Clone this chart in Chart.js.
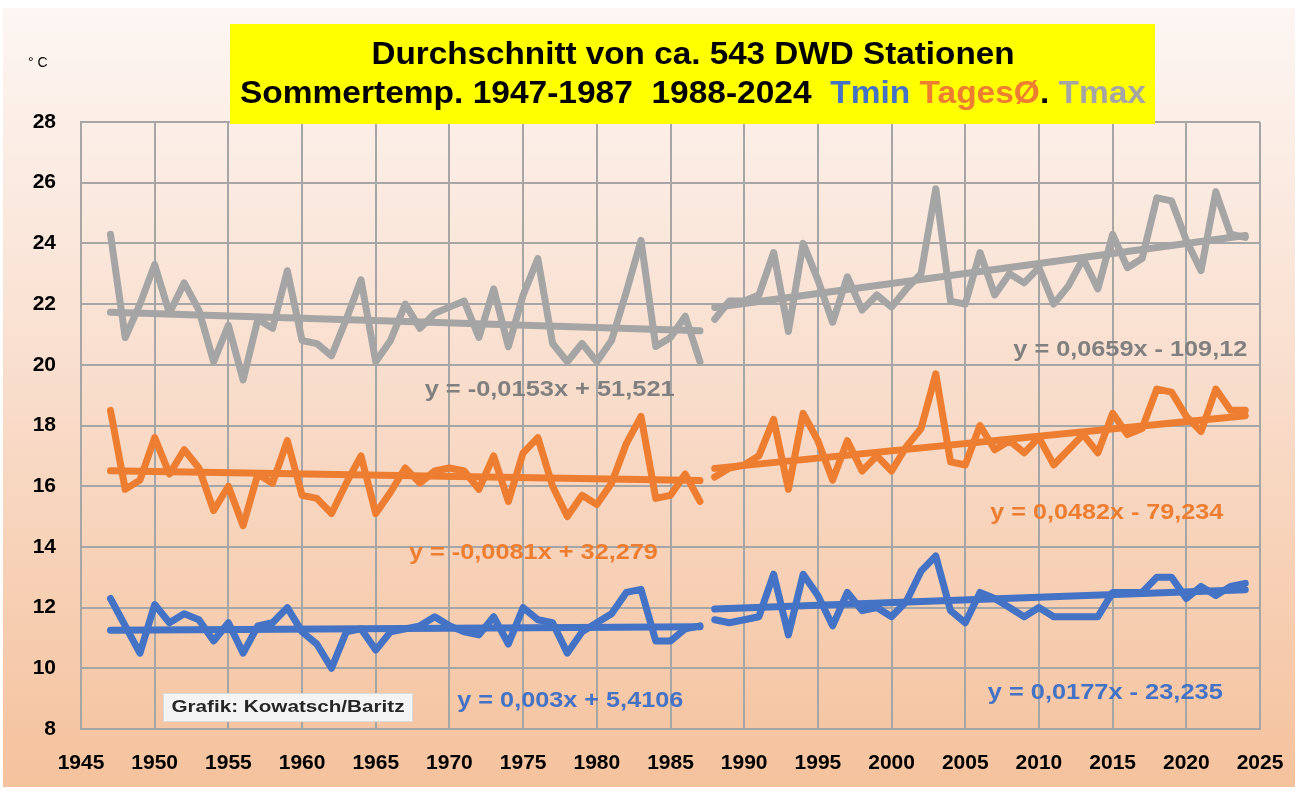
<!DOCTYPE html>
<html>
<head>
<meta charset="utf-8">
<script src="https://cdn.jsdelivr.net/npm/chart.js@4/dist/chart.umd.min.js"></script>
<style>
  html, body { margin: 0; padding: 0; background: #fff; }
  #c { display: block; }
</style>
</head>
<body>
<canvas id="c" width="1298" height="791"></canvas>
<script>
// periods
const PERIOD1 = [1947, 1987];
const PERIOD2 = [1988, 2024];

// summer Tmax
const tmax1 = [24.3, 20.9, 22.0, 23.3, 21.7, 22.7, 21.8, 20.1, 21.3, 19.5,
               21.5, 21.2, 23.1, 20.8, 20.7, 20.3, 21.5, 22.8, 20.1, 20.8,
               22.0, 21.2, 21.7, 21.9, 22.1, 20.9, 22.5, 20.6, 22.3, 23.5,
               20.7, 20.1, 20.7, 20.1, 20.8, 22.4, 24.1, 20.6, 20.9, 21.6,
               20.1];
const tmax2 = [21.5, 22.1, 22.1, 22.3, 23.7, 21.1, 24.0, 22.8, 21.4, 22.9,
               21.8, 22.3, 21.9, 22.5, 23.0, 25.8, 22.1, 22.0, 23.7, 22.3,
               23.0, 22.7, 23.2, 22.0, 22.6, 23.5, 22.5, 24.3, 23.2, 23.5,
               25.5, 25.4, 24.1, 23.1, 25.7, 24.3, 24.2];

// summer daily mean
const tmean1 = [18.5, 15.9, 16.2, 17.6, 16.4, 17.2, 16.6, 15.2, 16.0, 14.7,
                16.4, 16.1, 17.5, 15.7, 15.6, 15.1, 16.1, 17.0, 15.1, 15.8,
                16.6, 16.1, 16.5, 16.6, 16.5, 15.9, 17.0, 15.5, 17.1, 17.6,
                16.0, 15.0, 15.7, 15.4, 16.1, 17.4, 18.3, 15.6, 15.7, 16.4,
                15.5];
const tmean2 = [16.3, 16.6, 16.7, 17.0, 18.2, 15.9, 18.4, 17.5, 16.2, 17.5,
                16.5, 17.0, 16.5, 17.3, 17.9, 19.7, 16.8, 16.7, 18.0, 17.2,
                17.5, 17.1, 17.6, 16.7, 17.2, 17.7, 17.1, 18.4, 17.7, 17.9,
                19.2, 19.1, 18.3, 17.8, 19.2, 18.5, 18.5];

// summer Tmin
const tmin1 = [12.3, 11.4, 10.5, 12.1, 11.5, 11.8, 11.6, 10.9, 11.5, 10.5,
               11.4, 11.5, 12.0, 11.2, 10.8, 10.0, 11.2, 11.3, 10.6, 11.2,
               11.3, 11.4, 11.7, 11.4, 11.2, 11.1, 11.7, 10.8, 12.0, 11.6,
               11.5, 10.5, 11.2, 11.5, 11.8, 12.5, 12.6, 10.9, 10.9, 11.3,
               11.4];
const tmin2 = [11.6, 11.5, 11.6, 11.7, 13.1, 11.1, 13.1, 12.4, 11.4, 12.5,
               11.9, 12.0, 11.7, 12.2, 13.2, 13.7, 11.9, 11.5, 12.5, 12.3,
               12.0, 11.7, 12.0, 11.7, 11.7, 11.7, 11.7, 12.5, 12.5, 12.5,
               13.0, 13.0, 12.3, 12.7, 12.4, 12.7, 12.8];

// linear trends as printed in the chart: gray1, gray2, orange1, orange2, blue1, blue2
const trendSlopes = [-0.0153, 0.0659, -0.0081, 0.0482, 0.003, 0.0177];
const trendIntercepts = [51.521, -109.12, 32.279, -79.234, 5.4106, -23.235];

const xTicks = [1945, 2025, 5];
const yTicks = [8, 28, 2];

const BLUE = '#4472c4';
const ORANGE = '#ed7d31';
const GRAY = '#a5a5a5';
const GRAY_TXT = '#808080';
const FONT = "'Liberation Sans', Arial, sans-serif";

function points(period, values) {
    var pts = [];
    for (var i = 0; i < values.length; i++) {
        pts.push({x: period[0] + i, y: values[i]});
    }
    return pts;
}

function trendPoints(period, k) {
    return [
        {x: period[0], y: trendSlopes[k] * period[0] + trendIntercepts[k]},
        {x: period[1], y: trendSlopes[k] * period[1] + trendIntercepts[k]}
    ];
}

function eqText(k) {
    var s = String(trendSlopes[k]).replace('.', ',');
    var b = trendIntercepts[k];
    return 'y = ' + s + 'x ' + (b < 0 ? '- ' : '+ ') + String(Math.abs(b)).replace('.', ',');
}

function line(data, color) {
    return {
        data: data,
        borderColor: color,
        backgroundColor: color,
        borderWidth: 7,
        pointRadius: 0,
        tension: 0,
        fill: false,
        borderJoinStyle: 'round',
        borderCapStyle: 'round'
    };
}

// draw text squeezed to a given width (the original uses a narrow font)
function fitParts(ctx, parts, cx, y, width) {
    var total = 0;
    parts.forEach(function (p) { total += ctx.measureText(p[0]).width; });
    var sx = width / total;
    ctx.save();
    ctx.translate(cx - width / 2, y);
    ctx.scale(sx, 1);
    var x = 0;
    ctx.textAlign = 'left';
    parts.forEach(function (p) {
        ctx.fillStyle = p[1];
        ctx.fillText(p[0], x, 0);
        x += ctx.measureText(p[0]).width;
    });
    ctx.restore();
}

const backgroundPlugin = {
    id: 'bg',
    beforeDraw: function (chart) {
        var ctx = chart.ctx;
        ctx.save();
        ctx.fillStyle = '#ffffff';
        ctx.fillRect(0, 0, chart.width, chart.height);
        var g = ctx.createLinearGradient(0, 8, 0, 786);
        g.addColorStop(0, '#fdf6f3');
        g.addColorStop(0.45, '#f9dfcf');
        g.addColorStop(1, '#f5c29d');
        ctx.fillStyle = g;
        ctx.fillRect(3, 8, chart.width - 6, chart.height - 12);
        ctx.restore();
    }
};

const labelPlugin = {
    id: 'labels',
    afterDraw: function (chart, args, opts) {
        var ctx = chart.ctx;
        var xs = chart.scales.x, ys = chart.scales.y;
        ctx.save();

        // title box
        ctx.fillStyle = '#ffff00';
        ctx.fillRect(230, 24, 925, 100);
        ctx.textBaseline = 'alphabetic';
        ctx.font = 'bold 32px ' + FONT;
        fitParts(ctx, [['Durchschnitt von ca. 543 DWD Stationen', '#000']], 693, 64, 643);
        fitParts(ctx, [
            ['Sommertemp. 1947-1987  1988-2024  ', '#000'],
            ['Tmin', BLUE],
            [' ', '#000'],
            ['TagesØ', ORANGE],
            ['.', '#000'],
            [' Tmax', GRAY]
        ], 693, 103, 906);

        // unit
        ctx.font = '14px ' + FONT;
        ctx.fillStyle = '#000';
        ctx.textAlign = 'left';
        ctx.fillText('° C', 28, 67);

        // trend equations
        ctx.font = 'bold 22px ' + FONT;
        ctx.textBaseline = 'middle';
        opts.equations.forEach(function (e) {
            fitParts(ctx, [[eqText(e.k), e.color]],
                xs.getPixelForValue(e.x), ys.getPixelForValue(e.y), e.w);
        });

        // credit box
        ctx.fillStyle = '#f4f4f4';
        ctx.fillRect(163, 693, 250, 29);
        ctx.strokeStyle = '#dadada';
        ctx.lineWidth = 1;
        ctx.strokeRect(163.5, 693.5, 249, 28);
        ctx.font = 'bold 16px ' + FONT;
        fitParts(ctx, [['Grafik: Kowatsch/Baritz', '#262626']], 288, 708, 233);

        ctx.restore();
    }
};

var ctx = document.getElementById('c');
var myChart = new Chart(ctx, {
    type: 'line',
    plugins: [backgroundPlugin, labelPlugin],
    data: {
        datasets: [
            line(points(PERIOD1, tmax1), GRAY),
            line(trendPoints(PERIOD1, 0), GRAY),
            line(points(PERIOD2, tmax2), GRAY),
            line(trendPoints(PERIOD2, 1), GRAY),
            line(points(PERIOD1, tmean1), ORANGE),
            line(trendPoints(PERIOD1, 2), ORANGE),
            line(points(PERIOD2, tmean2), ORANGE),
            line(trendPoints(PERIOD2, 3), ORANGE),
            line(points(PERIOD1, tmin1), BLUE),
            line(trendPoints(PERIOD1, 4), BLUE),
            line(points(PERIOD2, tmin2), BLUE),
            line(trendPoints(PERIOD2, 5), BLUE)
        ]
    },
    options: {
        responsive: false,
        animation: false,
        devicePixelRatio: 1,
        layout: {
            padding: {top: 122, right: 38, left: 0, bottom: 0}
        },
        plugins: {
            legend: {display: false},
            tooltip: {enabled: false},
            title: {display: false},
            labels: {
                equations: [
                    {k: 0, x: 1976.8, y: 19.18, w: 250, color: GRAY_TXT},
                    {k: 1, x: 2016.2, y: 20.5, w: 234, color: GRAY_TXT},
                    {k: 2, x: 1975.7, y: 13.81, w: 249, color: ORANGE},
                    {k: 3, x: 2014.6, y: 15.13, w: 233, color: ORANGE},
                    {k: 4, x: 1978.2, y: 8.93, w: 226, color: BLUE},
                    {k: 5, x: 2014.5, y: 9.2, w: 235, color: BLUE}
                ]
            }
        },
        scales: {
            x: {
                type: 'linear',
                min: xTicks[0],
                max: xTicks[1],
                afterFit: function (scale) {
                    scale.height = 62;
                    scale.paddingLeft = 0;
                    scale.paddingRight = 0;
                },
                ticks: {
                    stepSize: xTicks[2],
                    color: '#000',
                    padding: 22,
                    font: {family: FONT, size: 21, weight: 'bold'},
                    callback: function (v) { return String(v); }
                },
                grid: {color: '#a6a6a6', lineWidth: 2, drawTicks: false},
                border: {color: '#a6a6a6', width: 2}
            },
            y: {
                min: yTicks[0],
                max: yTicks[1],
                afterFit: function (scale) {
                    scale.width = 81;
                    scale.paddingTop = 0;
                    scale.paddingBottom = 0;
                },
                ticks: {
                    stepSize: yTicks[2],
                    color: '#000',
                    padding: 25,
                    font: {family: FONT, size: 21, weight: 'bold'}
                },
                grid: {color: '#a6a6a6', lineWidth: 2, drawTicks: false},
                border: {color: '#a6a6a6', width: 2}
            }
        }
    }
});
</script>
</body>
</html>
